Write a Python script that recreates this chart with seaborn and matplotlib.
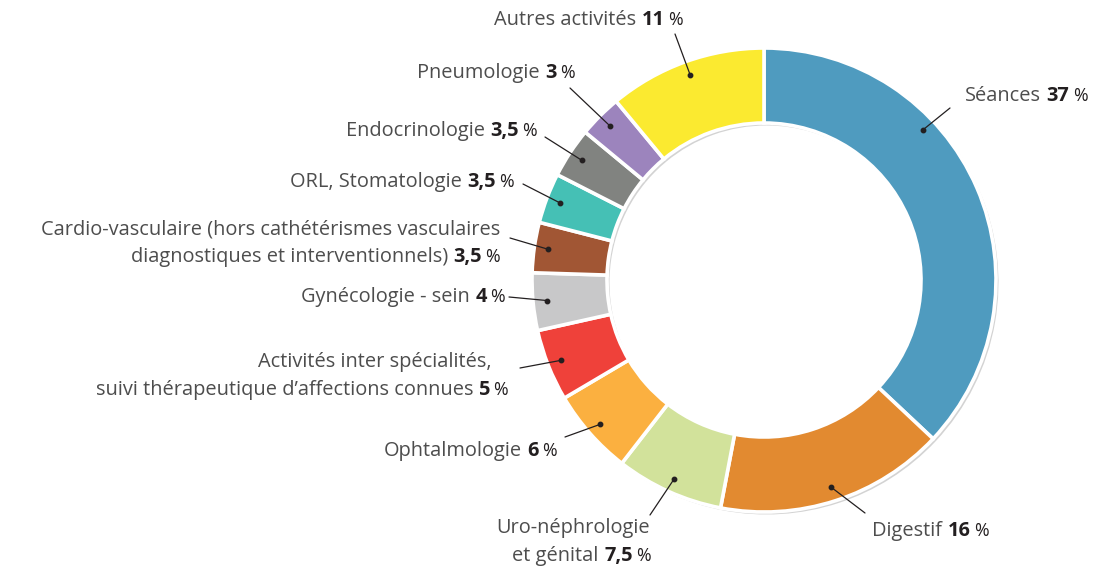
import matplotlib
matplotlib.use("Agg")
import matplotlib.pyplot as plt
import numpy as np
import seaborn as sns

# Share of activity by speciality (%)
categories = [
    "Séances",
    "Digestif",
    "Uro-néphrologie et génital",
    "Ophtalmologie",
    "Activités inter spécialités, suivi thérapeutique d’affections connues",
    "Gynécologie - sein",
    "Cardio-vasculaire (hors cathétérismes vasculaires diagnostiques et interventionnels)",
    "ORL, Stomatologie",
    "Endocrinologie",
    "Pneumologie",
    "Autres activités",
]
shares = [37, 16, 7.5, 6, 5, 4, 3.5, 3.5, 3.5, 3, 11]
slice_colors = [
    "#4f9bbf", "#e28a30", "#d2e29b", "#fbb040", "#ef413a", "#c8c8c9",
    "#a15634", "#45c0b5", "#818380", "#9c84bd", "#fbea30",
]
# Label text split into the printed lines
label_lines = [
    ["Séances"],
    ["Digestif"],
    ["Uro-néphrologie", "et génital"],
    ["Ophtalmologie"],
    ["Activités inter spécialités,", "suivi thérapeutique d’affections connues"],
    ["Gynécologie - sein"],
    ["Cardio-vasculaire (hors cathétérismes vasculaires", "diagnostiques et interventionnels)"],
    ["ORL, Stomatologie"],
    ["Endocrinologie"],
    ["Pneumologie"],
    ["Autres activités"],
]

# ---- layout (pixels, origin top-left) ----
W, H = 1114, 566
CX, CY = 764, 280
R_OUT, RING = 232, 75
SHADOW = (2.5, 2.5)
LINE_GAP = 28
# x per printed row, first baseline, alignment, leader end
label_layout = [
    dict(x=[965], y=101, ha="left", end=(950, 108)),
    dict(x=[872], y=536, ha="left", end=(865, 513)),
    dict(x=[650, 651], y=533, ha="right", end=(650, 515)),
    dict(x=[557], y=456, ha="right", end=(565, 437)),
    dict(x=[492, 508], y=367, ha="right", end=(520, 368)),
    dict(x=[505], y=302, ha="right", end=(509, 297)),
    dict(x=[500, 500], y=234, ha="right", end=(510, 238)),
    dict(x=[514], y=187, ha="right", end=(523, 184)),
    dict(x=[537], y=136, ha="right", end=(545, 137)),
    dict(x=[575], y=78, ha="right", end=(570, 88)),
    dict(x=[683], y=25, ha="right", end=(675, 34)),
]
dot_fraction = [0.35] + [0.5] * 10
dot_radius = 0.94

sns.set_theme(style="white")
plt.rcParams["font.family"] = ["Open Sans", "DejaVu Sans"]
palette = sns.color_palette(slice_colors)

fig = plt.figure(figsize=(W / 100, H / 100), dpi=100)
ax = fig.add_axes([0, 0, 1, 1])

def Y(y):
    return H - y

# drop shadow ring
ax.pie(shares, radius=R_OUT, center=(CX + SHADOW[0], Y(CY) - SHADOW[1]),
       startangle=90, counterclock=False, colors=["#d3d3d3"] * len(shares),
       wedgeprops=dict(width=RING, linewidth=0), frame=True)
# coloured ring
wedges, _ = ax.pie(shares, radius=R_OUT, center=(CX, Y(CY)),
                   startangle=90, counterclock=False, colors=palette,
                   wedgeprops=dict(width=RING, edgecolor="white", linewidth=2.6),
                   frame=True)
ax.set_xlim(0, W)
ax.set_ylim(0, H)
ax.set_aspect("equal")
ax.axis("off")

fig.canvas.draw()
renderer = fig.canvas.get_renderer()

TXT = "#4d4d4d"
NUM = "#231f20"
FS = 14.4

def fmt(v):
    return f"{v:g}".replace(".", ",")

def draw_parts(x, y, parts, ha):
    objs = [ax.text(0, Y(y), s, va="baseline", ha="left", **props)
            for s, props, _ in parts]
    widths = [t.get_window_extent(renderer).width for t in objs]
    gaps = [g for _, _, g in parts]
    total = sum(widths) + sum(gaps[1:])
    cur = x if ha == "left" else x - total
    for k, (t, w) in enumerate(zip(objs, widths)):
        if k:
            cur += gaps[k]
        t.set_x(cur)
        cur += w

reg = dict(fontsize=FS, color=TXT, fontweight="normal")
bold = dict(fontsize=FS, color=NUM, fontweight="bold")
pct = dict(fontsize=FS * 0.88, color=NUM, fontweight="normal")

start = 90.0
total = sum(shares)
for i, (v, lines, lay) in enumerate(zip(shares, label_lines, label_layout)):
    sweep = 360.0 * v / total
    ang = np.deg2rad(start - dot_fraction[i] * sweep)
    start -= sweep
    dx = CX + dot_radius * R_OUT * np.cos(ang)
    dy = Y(CY) + dot_radius * R_OUT * np.sin(ang)
    ex, ey = lay["end"]
    ax.plot([dx, ex], [dy, Y(ey)], color=NUM, lw=0.9, solid_capstyle="round")
    ax.plot([dx], [dy], "o", color=NUM, ms=3.2)
    for j, line in enumerate(lines):
        yb = lay["y"] + j * LINE_GAP
        parts = [(line, reg, 0)]
        if j == len(lines) - 1:
            parts += [(fmt(v), bold, 5.5), ("%", pct, 3.5)]
        draw_parts(lay["x"][j], yb, parts, lay["ha"])

fig.savefig("out.png", dpi=100)
